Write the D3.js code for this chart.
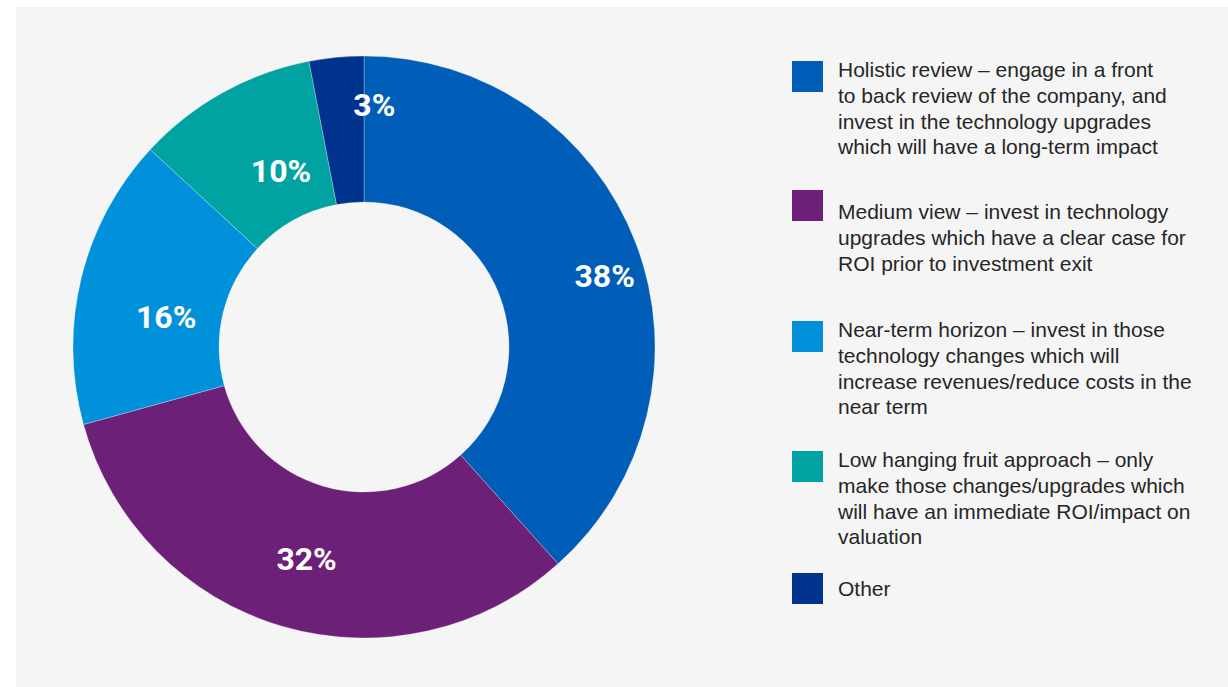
<!DOCTYPE html>
<html>
<head>
<meta charset="utf-8">
<script src="https://cdn.jsdelivr.net/npm/d3@7"></script>
<style>
	body { margin: 0; background: #fff; }
	svg { display: block; }
	.label { font-family: Roboto, "Liberation Sans", sans-serif; font-weight: 700; fill: #fff; }
	.legend text { font-family: "Liberation Sans", Arial, sans-serif; fill: #262626; }
</style>
</head>
<body>
<svg id="chart" width="1228" height="687"></svg>
<script>
var categories = [
	'Holistic review – engage in a front to back review of the company, and invest in the technology upgrades which will have a long-term impact',
	'Medium view – invest in technology upgrades which have a clear case for ROI prior to investment exit',
	'Near-term horizon – invest in those technology changes which will increase revenues/reduce costs in the near term',
	'Low hanging fruit approach – only make those changes/upgrades which will have an immediate ROI/impact on valuation',
	'Other'
];
var shares = [38, 32, 16, 10, 3];
var legendLines = [
	['Holistic review – engage in a front', 'to back review of the company, and', 'invest in the technology upgrades', 'which will have a long-term impact'],
	['Medium view – invest in technology', 'upgrades which have a clear case for', 'ROI prior to investment exit'],
	['Near-term horizon – invest in those', 'technology changes which will', 'increase revenues/reduce costs in the', 'near term'],
	['Low hanging fruit approach – only', 'make those changes/upgrades which', 'will have an immediate ROI/impact on', 'valuation'],
	['Other']
];
var colors = ['#005eb8', '#6d2077', '#0091da', '#00a3a1', '#00338d'];

// layout
var width = 1228, height = 687;
var cx = 364, cy = 347, outerR = 291, innerR = 145;
// hand nudges for the percentage labels, from the ring centroid
var labelNudge = [[37, 6], [4, 2], [14, 21], [23, 14], [31, -26]];
// legend rows: swatch top and first text line centre
var legendX = 792, swatch = 31, textX = 838, lineH = 25.7;
var legendRows = [{s: 61, t: 70}, {s: 190, t: 212}, {s: 321, t: 330}, {s: 451, t: 460}, {s: 573, t: 589}];

var svg = d3.select('#chart');

//grey panel behind everything
svg.append('rect')
	.attr('x', 16)
	.attr('y', 7)
	.attr('width', width - 16)
	.attr('height', height - 7)
	.attr('fill', '#f5f5f5');

var data = shares.map(function(v, i) {
	return {value: v, label: v + '%', color: colors[i], nudge: labelNudge[i]};
});

var pie = d3.pie()
	.sort(null)
	.value(function(d) { return d.value; });

var arc = d3.arc()
	.innerRadius(innerR)
	.outerRadius(outerR);

var ring = svg.append('g')
	.attr('transform', 'translate(' + cx + ',' + cy + ')');

var arcs = pie(data);

ring.selectAll('path')
	.data(arcs)
	.enter().append('path')
	.attr('d', arc)
	.attr('fill', function(d) { return d.data.color; })
	.attr('stroke', 'rgba(255,255,255,0.45)')
	.attr('stroke-width', 0.6);

//percentage labels
ring.selectAll('.label')
	.data(arcs)
	.enter().append('text')
	.attr('class', 'label')
	.attr('text-anchor', 'middle')
	.attr('dy', '0.36em')
	.attr('font-size', 32)
	.attr('transform', function(d) {
		var c = arc.centroid(d);
		return 'translate(' + (c[0] + d.data.nudge[0]) + ',' + (c[1] + d.data.nudge[1]) + ')';
	})
	.text(function(d) { return d.data.label; });

//legend
var legend = svg.append('g').attr('class', 'legend');
var items = legend.selectAll('g')
	.data(categories)
	.enter().append('g');

items.append('rect')
	.attr('x', legendX)
	.attr('y', function(d, i) { return legendRows[i].s; })
	.attr('width', swatch)
	.attr('height', swatch)
	.attr('fill', function(d, i) { return colors[i]; });

var text = items.append('text')
	.attr('x', textX)
	.attr('y', function(d, i) { return legendRows[i].t; })
	.attr('font-size', 21);

text.selectAll('tspan')
	.data(function(d, i) { return legendLines[i]; })
	.enter().append('tspan')
	.attr('x', textX)
	.attr('dy', function(d, j) { return j === 0 ? '0.35em' : lineH; })
	.text(function(d) { return d; });
</script>
</body>
</html>
